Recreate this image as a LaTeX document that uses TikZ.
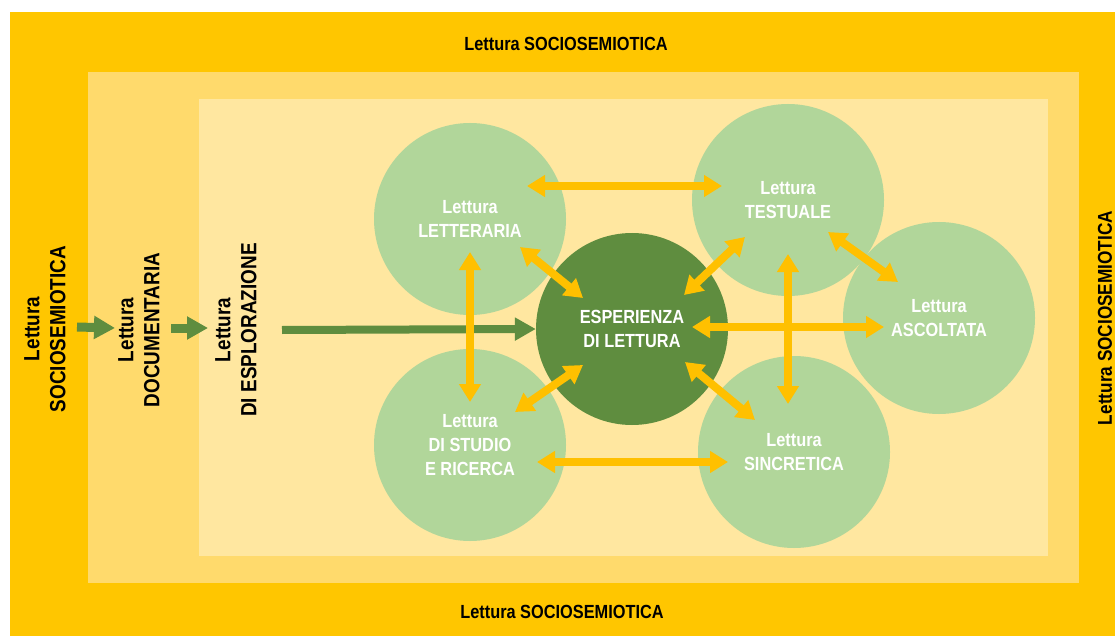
\documentclass[tikz,border=0pt]{standalone}
\usepackage{fontspec}
\setmainfont{Liberation Sans}
\newfontfamily\narrowfont[FakeStretch=0.86]{Liberation Sans}
\usetikzlibrary{arrows.meta}

\definecolor{outerband}{HTML}{FFC600}
\definecolor{middleband}{HTML}{FFDA6C}
\definecolor{innerband}{HTML}{FFE7A0}
\definecolor{readgreen}{HTML}{B1D69A}
\definecolor{expgreen}{HTML}{5F8D3F}
\definecolor{linkyellow}{HTML}{FFC000}

\newcommand{\rdn}{\node[circle, fill=readgreen, minimum size=192pt, inner sep=0pt, text=white, align=center, font=\narrowfont\bfseries\fontsize{19}{24}\selectfont]}
\newcommand{\exn}{\rdn[fill=expgreen]}
\newcommand{\vtn}{\node[rotate=90, align=center, font=\narrowfont\bfseries\fontsize{22}{26}\selectfont]}
\newcommand{\hzn}{\node[font=\narrowfont\bfseries\fontsize{19}{23}\selectfont]}

\tikzset{
    twoway/.style={{Triangle[length=18pt,width=21pt]}-{Triangle[length=18pt,width=21pt]}, line width=8pt, draw=linkyellow},
    oneway/.style={-{Triangle[length=21pt,width=22pt]}, line width=9pt, draw=expgreen},
}

\begin{document}
\begin{tikzpicture}[x=1pt, y=-1pt]
            \useasboundingbox (0,0) rectangle (1115,636);

            % nested bands
            \fill[outerband] (10,12) rectangle (1115,636);
            \fill[middleband] (88,72) rectangle (1079,583);
            \fill[innerband] (199,99) rectangle (1048,556);

            \hzn (top) at (566,44) {Lettura SOCIOSEMIOTICA};
            \hzn (bottom) at (562,612) {Lettura SOCIOSEMIOTICA};
            \vtn[font=\narrowfont\bfseries\fontsize{20}{24}\selectfont] (right) at (1105,318) {Lettura SOCIOSEMIOTICA};

            \vtn (soc) at (45,329) {Lettura\\SOCIOSEMIOTICA};
            \vtn (doc) at (139,330) {Lettura\\DOCUMENTARIA};
            \vtn (expl) at (236,330) {Lettura\\DI ESPLORAZIONE};

            \rdn (lett) at (470,219) {Lettura\\LETTERARIA};
            \rdn (test) at (788,200) {Lettura\\TESTUALE};
            \rdn (asc) at (939,318) {Lettura\\ASCOLTATA};
            \rdn (stud) at (470,445) {Lettura\\DI STUDIO\\E RICERCA};
            \rdn (sinc) at (794,452) {Lettura\\SINCRETICA};
            \exn (esp) at (632,329) {ESPERIENZA\\DI LETTURA};

            \draw[oneway]
                ([shift={(32,-2)}]soc.center) -- ([shift={(-24,-2)}]doc.center);
            \draw[oneway]
                ([shift={(32,-2)}]doc.center) -- ([shift={(-28,-2)}]expl.center);
            \draw[oneway, line width=8pt]
                ([shift={(46,0)}]expl.center) -- (esp.west);

            \draw[twoway] ([shift={(57,-33)}]lett.center) -- ([shift={(-66,-14)}]test.center);
            \draw[twoway] ([shift={(67,17)}]stud.center) -- ([shift={(-66,10)}]sinc.center);
            \draw[twoway] ([shift={(0,33)}]lett.center) -- ([shift={(0,-43)}]stud.center);
            \draw[twoway] ([shift={(0,54)}]test.center) -- ([shift={(-6,-48)}]sinc.center);
            \draw[twoway] ([shift={(60,-2)}]esp.center) -- ([shift={(-55,9)}]asc.center);
            \draw[twoway] ([shift={(50,28)}]lett.center) -- ([shift={(-49,-31)}]esp.center);
            \draw[twoway] ([shift={(-43,37)}]test.center) -- ([shift={(52,-34)}]esp.center);
            \draw[twoway] ([shift={(45,-33)}]stud.center) -- ([shift={(-49,36)}]esp.center);
            \draw[twoway] ([shift={(-39,-32)}]sinc.center) -- ([shift={(53,33)}]esp.center);
            \draw[twoway] ([shift={(40,32)}]test.center) -- ([shift={(-41,-36)}]asc.center);
        \end{tikzpicture}
\end{document}
